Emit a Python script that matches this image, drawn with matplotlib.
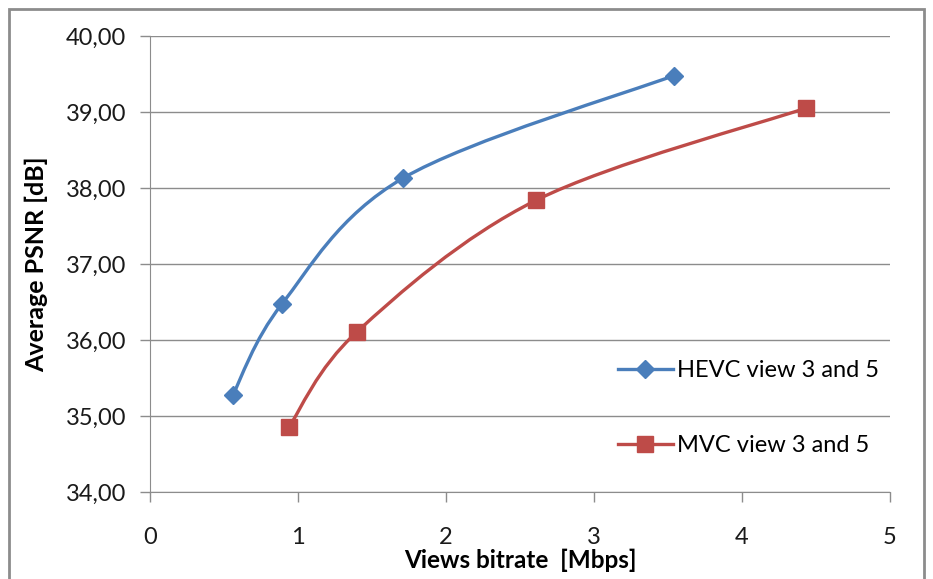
import numpy as np
import matplotlib.pyplot as plt
from matplotlib.path import Path
from matplotlib.patches import PathPatch, Rectangle
from matplotlib.lines import Line2D

plt.rcParams['font.family'] = ['Lato', 'DejaVu Sans']

# data
hevc_rate = [0.56, 0.89, 1.71, 3.54]
hevc_psnr = [35.28, 36.47, 38.13, 39.48]
mvc_rate = [0.94, 1.40, 2.61, 4.43]
mvc_psnr = [34.86, 36.11, 37.84, 39.05]
series_names = ["HEVC view 3 and 5", "MVC view 3 and 5"]

x_ticks = [0, 1, 2, 3, 4, 5]
y_ticks = [34, 35, 36, 37, 38, 39, 40]
y_tick_labels = ["34,00", "35,00", "36,00", "37,00", "38,00", "39,00", "40,00"]

blue = "#4A7EBB"
red = "#BE4B48"


def smooth_path(xs, ys):
    # Excel-style smoothed line: cubic Bezier through the points
    p = np.column_stack([xs, ys]).astype(float)
    ext = np.vstack([p[0], p, p[-1]])
    verts = [p[0]]
    codes = [Path.MOVETO]
    for i in range(len(p) - 1):
        c1 = ext[i + 1] + (ext[i + 2] - ext[i]) / 6.0
        c2 = ext[i + 2] - (ext[i + 3] - ext[i + 1]) / 6.0
        verts += [c1, c2, p[i + 1]]
        codes += [Path.CURVE4] * 3
    return Path(verts, codes)


fig = plt.figure(figsize=(9.33, 5.79), dpi=100)
ax = fig.add_axes([0.1608, 0.1503, 0.7931, 0.7875])

for xs, ys, col, mk, ms in [(hevc_rate, hevc_psnr, blue, "D", 9),
                             (mvc_rate, mvc_psnr, red, "s", 11)]:
    ax.add_patch(PathPatch(smooth_path(xs, ys), facecolor="none",
                           edgecolor=col, lw=2.4, zorder=3))
    ax.plot(xs, ys, ls="none", marker=mk, ms=ms, color=col, zorder=4)

ax.set_xlim(0, 5)
ax.set_ylim(34, 40)
ax.set_xticks(x_ticks)
ax.set_yticks(y_ticks)
ax.set_yticklabels(y_tick_labels)
ax.grid(axis="y", color="#8c8c8c", lw=1)
ax.set_axisbelow(True)
for s in ["top", "right"]:
    ax.spines[s].set_visible(False)
for s in ["left", "bottom"]:
    ax.spines[s].set_color("#8c8c8c")
ax.tick_params(axis="both", colors="#8c8c8c", length=7, width=1,
               labelcolor="#1a1a1a", labelsize=17)
ax.tick_params(axis="y", pad=10)
ax.tick_params(axis="x", pad=18)

ax.set_xlabel("Views bitrate  [Mbps]", fontsize=17.5, fontweight="bold")
ax.xaxis.set_label_coords(0.5, -0.125)
ax.set_ylabel("Average PSNR [dB]", fontsize=18, fontweight="bold")
ax.yaxis.set_label_coords(-0.138, 0.5)

handles = [Line2D([], [], color=blue, lw=2.4, marker="D", ms=9),
           Line2D([], [], color=red, lw=2.4, marker="s", ms=11)]
ax.legend(handles, series_names, loc="upper left", bbox_to_anchor=(0.62, 0.31),
          frameon=False, fontsize=17, labelspacing=2.3, handlelength=2.3,
          handletextpad=0.2, borderaxespad=0)

fig.patches.append(Rectangle((9 / 933, -0.05), 915 / 933, 1.05 - 9 / 579,
                             transform=fig.transFigure, fill=False,
                             edgecolor="#8c8c8c", lw=2))

fig.savefig("out.png", dpi=100)
